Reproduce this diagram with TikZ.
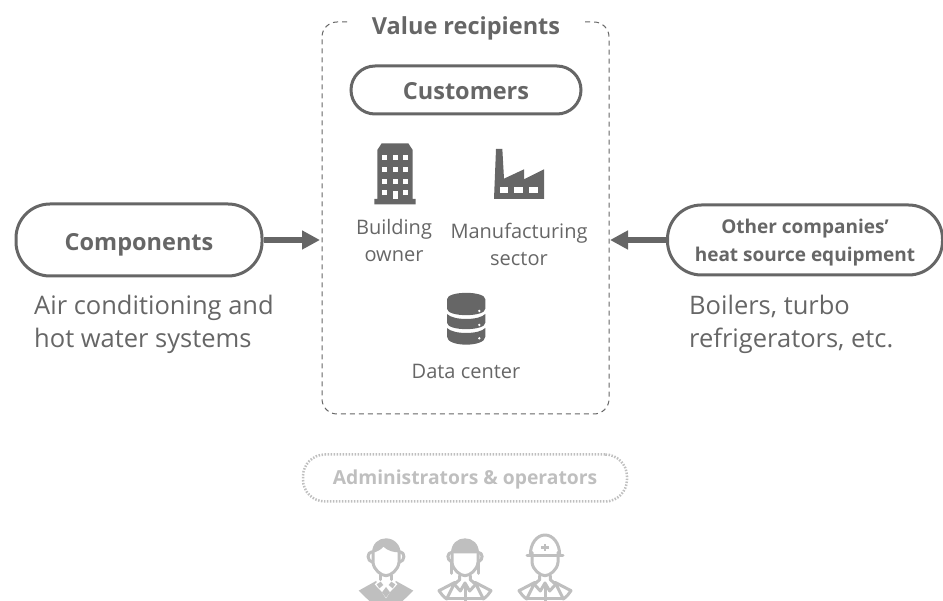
\documentclass[tikz,border=0pt]{standalone}
\usepackage{fontspec}
\setmainfont{Open Sans}
\newcommand{\semib}{\bfseries}
\usetikzlibrary{arrows.meta}
\definecolor{ink}{HTML}{666666}
\definecolor{pale}{HTML}{BFBFBF}
\newcommand{\fs}[2]{\fontsize{#1}{#2}\selectfont}
\tikzset{
  pill/.style={draw=ink,line width=3pt,rounded corners=24pt,inner sep=0pt,align=center,text=ink,font=\semib\fs{23.5}{30}},
  flow/.style={draw=ink,line width=5.5pt,-{Triangle[length=18pt,width=18pt]}},
  lab/.style={text=ink,align=center,inner sep=0pt,font=\fs{20}{27}},
  desc/.style={text=ink,align=left,inner sep=0pt,font=\fs{25.5}{33}},
  icon/.style={fill=ink,draw=none},
  hole/.style={fill=white,draw=none},
  pers/.style={draw=pale,line width=3pt,line join=round,line cap=round,fill=none}
}
\newcommand{\person}[2]{%
  \begin{scope}[shift={(#1,0)}]
  \ifnum#2=1
    \fill[pale] (-82,437) -- (-30,408) -- (0,445) -- (30,408) -- (82,437) -- (50,468) -- (-50,468) -- cycle;
    \fill[white] (-18,402) -- (0,424) -- (18,402) -- (34,418) -- (13,440) -- (0,460) -- (-13,440) -- (-34,418) -- cycle;
    \fill[pale] (-16,410) -- (-8,420) -- (-20,430) -- (-28,418) -- cycle;
    \fill[pale] (16,410) -- (8,420) -- (20,430) -- (28,418) -- cycle;
    \fill[pale] (0,426) -- (12,442) -- (0,458) -- (-12,442) -- cycle;
    \fill[pale] (-42,325) .. controls (-42,295) and (-22,280) .. (0,280) .. controls (25,280) and (44,300) .. (44,325) -- (36,322) .. controls (25,322) and (5,318) .. (-8,305) .. controls (-15,315) and (-28,320) .. (-42,325) -- cycle;
    \draw[pers] (-39,322) -- (-39,352) .. controls (-37,375) and (-14,392) .. (0,392) .. controls (14,392) and (37,375) .. (39,352) -- (39,322);
    \draw[pers] (-42,320) .. controls (-58,322) and (-58,348) .. (-40,352);
    \draw[pers] (42,320) .. controls (58,322) and (58,348) .. (40,352);
    \draw[pers] (-16,390) -- (-16,404) (16,390) -- (16,404);
  \else
    \draw[pers] (-78,437) -- (-30,412) -- (-55,462) .. controls (-65,455) and (-72,447) .. (-78,437) -- cycle;
    \draw[pers] (78,437) -- (30,412) -- (55,462) .. controls (65,455) and (72,447) .. (78,437) -- cycle;
    \draw[pers] (-55,462) -- (55,462);
    \draw[pers] (-16,392) -- (-16,404) -- (-32,418) -- (-14,438) -- (0,414) -- (14,438) -- (32,418) -- (16,404) -- (16,392);
    \draw[pers] (0,420) -- (0,468);
    \draw[pers] (-39,322) -- (-39,352) .. controls (-37,375) and (-14,392) .. (0,392) .. controls (14,392) and (37,375) .. (39,352) -- (39,322);
    \ifnum#2=2
      \fill[pale] (-42,325) .. controls (-42,295) and (-22,280) .. (0,280) .. controls (22,280) and (42,295) .. (42,325) -- cycle;
      \draw[pers] (-39,322) .. controls (-55,322) and (-55,345) .. (-41,350);
      \draw[pers] (-41,350) -- (-41,385);
      \draw[pers] (39,322) .. controls (55,322) and (55,345) .. (41,350);
      \draw[pers] (41,350) -- (41,385);
    \else
      \draw[pers] (-44,330) .. controls (-44,295) and (-24,270) .. (0,270) .. controls (24,270) and (44,295) .. (44,330);
      \draw[pers] (-54,332) -- (54,332);
      \fill[pale] (-4,296) rectangle (4,318);
      \fill[pale] (-12,303) rectangle (12,311);
    \fi
  \fi
  \end{scope}%
}
\begin{document}
\begin{tikzpicture}[x=1pt,y=-1pt]
\useasboundingbox (0,0) rectangle (943,601);
\coordinate (gapL) at (347,22);
\coordinate (gapR) at (585,22);
\draw[ink,line width=1pt,dash pattern=on 5pt off 4pt,rounded corners=15pt]
  (gapL) -- (322,22) -- (322,414) -- (609,414) -- (609,22) -- (gapR);
\node[text=ink,font=\semib\fs{23.5}{30},inner sep=0pt] (vr) at (466,28) {Value recipients};
\node[pill,minimum width=230pt,minimum height=48pt,text height=22pt,text depth=2pt] (cust) at (466,90) {Customers};
\node[pill,minimum width=246pt,minimum height=72pt,rounded corners=34pt,text height=23pt,text depth=2pt] (comp) at (139,240) {Components};
\node[pill,minimum width=275pt,minimum height=70pt,rounded corners=34pt,font=\semib\fs{19}{28}] (other) at (805,240) {\rule{0pt}{20pt}Other companies’\\heat source equipment};
\coordinate (frameL) at (320,240);
\coordinate (frameR) at (610,240);
\draw[flow] (comp.east) -- (frameL);
\draw[flow] (other.west) -- (frameR);
\node[desc,anchor=north west] (d1) at (34,295) {Air conditioning and\\hot water systems};
\node[desc,anchor=north west] (d2) at (689,295) {Boilers, turbo\\refrigerators, etc.};
\node[lab] (l1) at (394,241) {Building\\owner};
\node[lab] (l2) at (519,244) {Manufacturing\\sector};
\node[lab] (l3) at (466,371) {Data center};
\begin{scope}[shift={(340,130)},x=0.33333pt,y=-0.33333pt]
  \fill[icon] (103,207) -- (112,207) -- (112,60) -- (125,40) -- (205,40) -- (218,60) -- (218,207) -- (227,207) -- (227,223) -- (103,223) -- cycle;
  \foreach \x in {127,158,189}{\foreach \y in {76,110,146}{\fill[hole] (\x,\y) rectangle +(15,15);}}
  \fill[hole] (127,181) rectangle +(15,15);
  \fill[hole] (189,181) rectangle +(15,15);
  \fill[hole] (158,183) rectangle (173,207);
  \fill[icon] (468,57) -- (487,57) -- (492,146) -- (552,118) -- (552,148) -- (612,118) -- (612,207) -- (462,207) -- cycle;
  \foreach \x in {479,523,568}{\fill[hole] (\x,172) rectangle +(26,18);}
  \fill[icon] (321,508) .. controls (321,482) and (436,482) .. (436,508) -- (436,536) .. controls (436,562) and (321,562) .. (321,536) -- cycle;
  \fill[icon] (321,552) .. controls (340,572) and (417,572) .. (436,552) -- (436,578) .. controls (436,604) and (321,604) .. (321,578) -- cycle;
  \fill[icon] (321,594) .. controls (340,614) and (417,614) .. (436,594) -- (436,620) .. controls (436,652) and (321,652) .. (321,620) -- cycle;
  \foreach \y in {543,585,625}{\fill[hole] (418,\y) circle (4);}
\end{scope}
\node[draw=pale,line width=2.5pt,dash pattern=on 1.5pt off 1.5pt,rounded corners=22pt,minimum width=324pt,minimum height=47pt,inner sep=0pt,text=pale,font=\semib\fs{19.3}{25},text height=16pt,text depth=2pt] (adm) at (465,478) {Administrators \& operators};
\begin{scope}
\clip (0,0) rectangle (943,601);
\begin{scope}[shift={(290,445)},x=0.33333pt,y=-0.33333pt]
  \person{288}{1}
  \person{525}{2}
  \person{765}{3}
\end{scope}
\end{scope}
\end{tikzpicture}
\end{document}
